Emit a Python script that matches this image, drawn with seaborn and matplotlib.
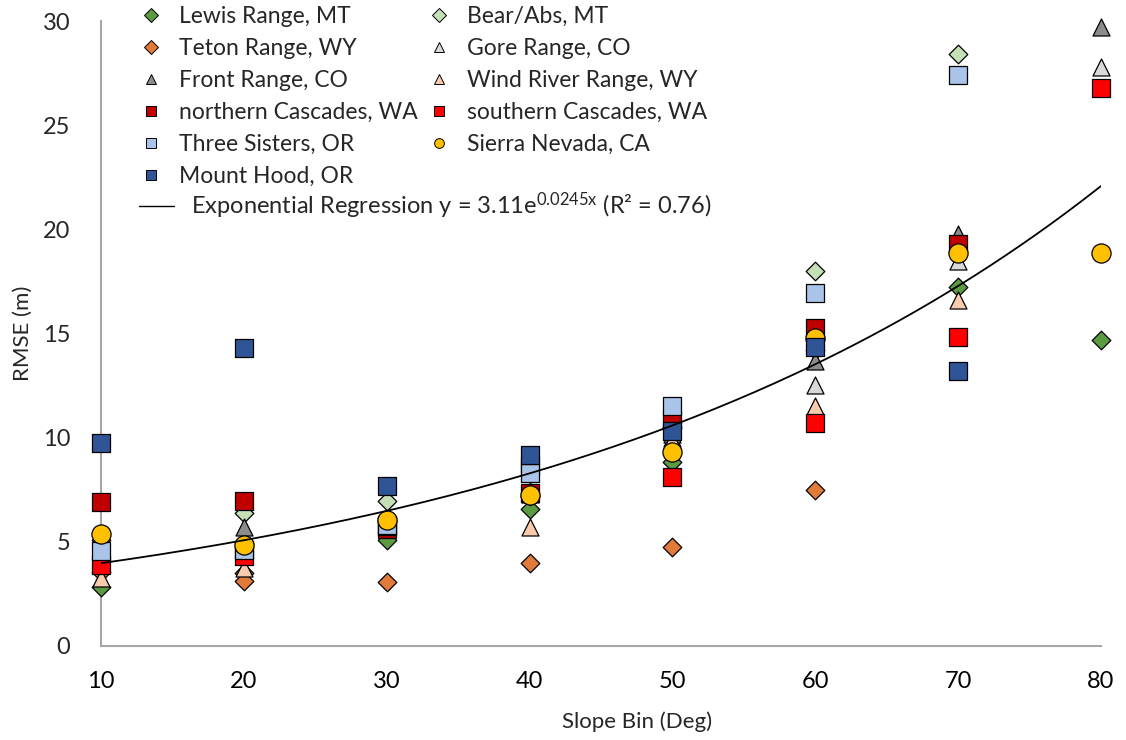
import numpy as np
import pandas as pd
import matplotlib
matplotlib.use("Agg")
import matplotlib.pyplot as plt
from matplotlib.lines import Line2D
import seaborn as sns

# RMSE (m) per slope bin (deg) for each mountain range
slope_bins = [10, 20, 30, 40, 50, 60, 70, 80]
nan = np.nan
lewis_mt      = [2.85, 3.5, 5.1, 6.6, 8.85, 14.2, 17.25, 14.7]
bear_abs_mt   = [5.1, 6.4, 6.97, 7.2, 10.5, 18.0, 28.4, nan]
teton_wy      = [3.55, 3.1, 3.07, 4.0, 4.75, 7.5, nan, nan]
gore_co       = [4.6, 5.25, 5.7, 7.3, 10.0, 12.55, 18.5, 27.8]
front_co      = [4.3, 5.7, 5.9, 7.45, 10.2, 13.7, 19.8, 29.7]
wind_river_wy = [3.25, 3.75, 5.6, 5.7, 9.9, 11.5, 16.6, nan]
n_cascades_wa = [6.9, 6.95, 5.6, 7.35, 10.85, 15.25, 19.3, nan]
s_cascades_wa = [3.9, 4.3, 5.75, 8.65, 8.1, 10.7, 14.85, 26.8]
three_sis_or  = [4.55, 4.6, 5.8, 8.3, 11.5, 16.95, 27.4, nan]
sierra_ca     = [5.4, 4.85, 6.05, 7.25, 9.3, 14.8, 18.85, 18.85]
mt_hood_or    = [9.75, 14.3, 7.7, 9.15, 10.3, 14.35, 13.2, nan]

# exponential fit: y = a * exp(b * x)
fit_a, fit_b, fit_r2 = 3.11, 0.0245, 0.76

series = [
    ("Lewis Range, MT", lewis_mt, "D", "#5b9b41", 90),
    ("Bear/Abs, MT", bear_abs_mt, "D", "#c5e0b4", 90),
    ("Teton Range, WY", teton_wy, "D", "#e07b39", 90),
    ("Gore Range, CO", gore_co, "^", "#d9d9d9", 150),
    ("Front Range, CO", front_co, "^", "#8c8c8c", 150),
    ("Wind River Range, WY", wind_river_wy, "^", "#f8cbad", 150),
    ("northern Cascades, WA", n_cascades_wa, "s", "#c00000", 170),
    ("southern Cascades, WA", s_cascades_wa, "s", "#ff0000", 170),
    ("Three Sisters, OR", three_sis_or, "s", "#a9c4e8", 170),
    ("Sierra Nevada, CA", sierra_ca, "o", "#ffc000", 190),
    ("Mount Hood, OR", mt_hood_or, "s", "#2f5597", 170),
]

sns.set_theme(style="white")
plt.rcParams["font.family"] = ["Lato", "DejaVu Sans"]
plt.rcParams["mathtext.default"] = "regular"

W, H = 1126, 740
fig = plt.figure(figsize=(W / 100, H / 100), dpi=100)
ax = fig.add_axes([101 / W, (H - 646) / H, 1000 / W, 625 / H])

for name, vals, marker, color, size in series:
    df = pd.DataFrame({"slope": slope_bins, "rmse": vals}).dropna()
    sns.scatterplot(data=df, x="slope", y="rmse", ax=ax, marker=marker,
                    color=color, s=size, edgecolor="black", linewidth=0.9,
                    zorder=3, clip_on=False, legend=False)

xs = np.linspace(10, 80, 200)
fit = pd.DataFrame({"slope": xs, "rmse": fit_a * np.exp(fit_b * xs)})
sns.lineplot(data=fit, x="slope", y="rmse", ax=ax, color="black",
             linewidth=1.3, zorder=4, legend=False)

ax.set_xlim(10, 80)
ax.set_ylim(0, 30)
ax.set_xticks(slope_bins)
ax.set_yticks(range(0, 31, 5))
ax.set_xlabel("Slope Bin (Deg)", fontsize=16)
ax.set_ylabel("RMSE (m)", fontsize=16)
ax.xaxis.set_label_coords(0.536, -0.105)
ax.yaxis.set_label_coords(-0.068, 0.5)
for side in ("top", "right"):
    ax.spines[side].set_visible(False)
for side in ("left", "bottom"):
    ax.spines[side].set_color("#a6a6a6")
    ax.spines[side].set_linewidth(1.5)
ax.tick_params(axis="x", direction="in", length=8, width=1.5,
               colors="#a6a6a6", labelcolor="black", labelsize=17, pad=18)
ax.tick_params(axis="y", length=0, labelsize=17, pad=22)
ax.grid(False)


def handle(marker, color):
    return Line2D([], [], linestyle="none", marker=marker, markersize=7,
                  markerfacecolor=color, markeredgecolor="black",
                  markeredgewidth=0.7)


by_name = {s[0]: s for s in series}
col1 = ["Lewis Range, MT", "Teton Range, WY", "Front Range, CO",
        "northern Cascades, WA", "Three Sisters, OR", "Mount Hood, OR"]
col2 = ["Bear/Abs, MT", "Gore Range, CO", "Wind River Range, WY",
        "southern Cascades, WA", "Sierra Nevada, CA"]

leg_kw = dict(frameon=False, fontsize=16.5, handlelength=1.0,
              handletextpad=0.7, labelspacing=0.48, borderpad=0,
              borderaxespad=0)
for names, x0 in ((col1, 140), (col2, 428)):
    fig.legend([handle(by_name[n][2], by_name[n][3]) for n in names],
               names, loc="upper left",
               bbox_to_anchor=(x0 / W, 1 - 6 / H), **leg_kw)

line_handle = Line2D([], [], color="black", linewidth=1.0)
fig.legend([line_handle],
           [f"Exponential Regression y = {fit_a}e$^{{{fit_b}x}}$ (R² = {fit_r2})"],
           loc="upper left", bbox_to_anchor=(139 / W, 1 - 191 / H),
           frameon=False, fontsize=17, handlelength=1.5, handletextpad=0.7,
           borderpad=0, borderaxespad=0)

fig.savefig("out.png", dpi=100)
